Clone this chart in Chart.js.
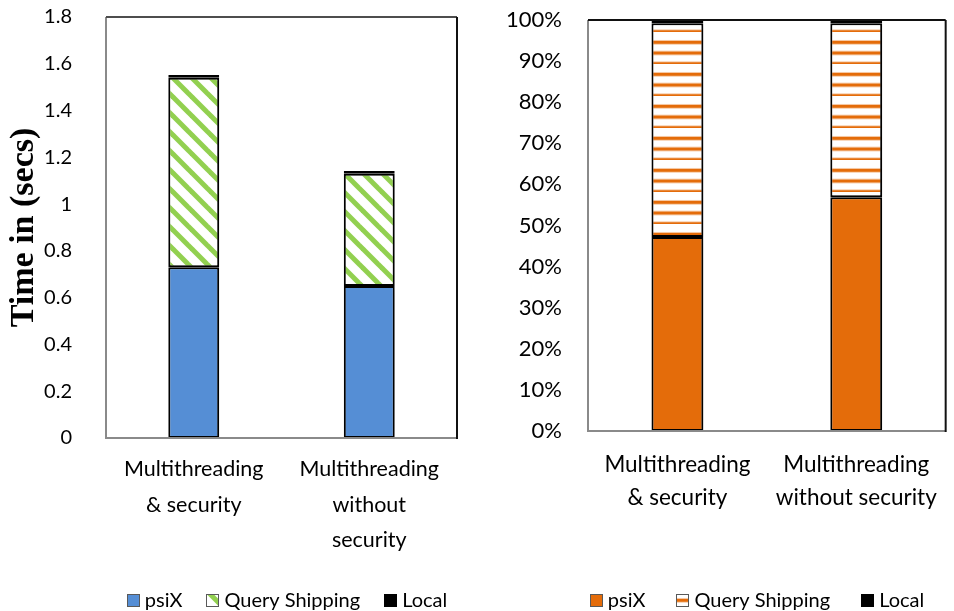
<!DOCTYPE html>
<html>
<head>
<meta charset="utf-8">
<script src="https://cdn.jsdelivr.net/npm/chart.js@4.4.1/dist/chart.umd.min.js"></script>
<style>
  html, body { margin: 0; padding: 0; background: #fff; }
  #wrap { position: relative; width: 954px; height: 611px; overflow: hidden; }
  canvas { position: absolute; top: 0; }
  #timeChart { left: 0; }
  #shareChart { left: 480px; }
</style>
</head>
<body>
<div id="wrap">
  <canvas id="timeChart" width="480" height="611"></canvas>
  <canvas id="shareChart" width="474" height="611"></canvas>
</div>
<script>
// ---- data ----
const timeCategories = [["Multithreading", "& security"], ["Multithreading", "without", "security"]];
const shareCategories = [["Multithreading", "& security"], ["Multithreading", "without security"]];
const seriesNames = ["psiX", "Query Shipping", "Local"];

// execution time in seconds
const timePsiX = [0.73, 0.65];
const timeQueryShipping = [0.81, 0.48];
const timeLocal = [0.012, 0.012];

// share of the total, percent
const sharePsiX = [47.2, 56.9];
const shareQueryShipping = [52.0, 42.3];
const shareLocal = [0.8, 0.8];

const timeTicks = ["0", "0.2", "0.4", "0.6", "0.8", "1", "1.2", "1.4", "1.6", "1.8"];
const shareTicks = ["0%", "10%", "20%", "30%", "40%", "50%", "60%", "70%", "80%", "90%", "100%"];

// ---- styling ----
const FONT = "Lato";
const BLUE = "#558ED5";
const GREEN = "#92D050";
const ORANGE = "#E46C0A";

Chart.defaults.font.family = FONT;
Chart.defaults.color = "#000";

function diagonalStripes() {
  const s = 19;
  const c = document.createElement("canvas");
  c.width = s; c.height = s;
  const g = c.getContext("2d");
  g.fillStyle = "#fff";
  g.fillRect(0, 0, s, s);
  g.strokeStyle = GREEN;
  g.lineWidth = 5;
  for (let k = -1; k <= 1; k++) {
    g.beginPath();
    g.moveTo(k * s - 2, -2);
    g.lineTo(k * s + s + 2, s + 2);
    g.stroke();
  }
  return g.createPattern(c, "repeat");
}

function horizontalStripes() {
  const w = 8, h = 32;
  const c = document.createElement("canvas");
  c.width = w; c.height = h;
  const g = c.getContext("2d");
  g.fillStyle = "#fff";
  g.fillRect(0, 0, w, h);
  [10.37, 21.03, 31.7].forEach(cy => {
    g.fillStyle = "rgba(228,108,10,0.35)";
    g.fillRect(0, cy - 2.4, w, 4.8);
    g.fillStyle = ORANGE;
    g.fillRect(0, cy - 1.4, w, 2.8);
  });
  return g.createPattern(c, "repeat");
}

// plot frame: grey left/bottom, dark top/right
const framePlugin = {
  id: "frame",
  afterDraw(chart, args, opts) {
    const { ctx, chartArea: a } = chart;
    ctx.save();
    ctx.lineWidth = 2;
    ctx.strokeStyle = "#8a8a8a";
    ctx.beginPath();
    ctx.moveTo(a.left, a.top); ctx.lineTo(a.left, a.bottom); ctx.lineTo(a.right, a.bottom);
    ctx.stroke();
    ctx.strokeStyle = opts.topColor;
    ctx.beginPath(); ctx.moveTo(a.left, a.top); ctx.lineTo(a.right, a.top); ctx.stroke();
    ctx.strokeStyle = "#111";
    ctx.beginPath(); ctx.moveTo(a.right, a.top); ctx.lineTo(a.right, a.bottom + 1); ctx.stroke();
    ctx.restore();
  }
};

// soft drop shadow under the bars
const shadowPlugin = {
  id: "barShadow",
  beforeDatasetsDraw(chart) {
    const ctx = chart.ctx;
    ctx.save();
    ctx.shadowColor = "rgba(0,0,0,0.22)";
    ctx.shadowBlur = 7;
    ctx.shadowOffsetX = 2;
    ctx.shadowOffsetY = 1;
  },
  afterDatasetsDraw(chart) {
    chart.ctx.restore();
  }
};

// legend row below the chart
const legendPlugin = {
  id: "boxLegend",
  afterDraw(chart, args, opts) {
    const ctx = chart.ctx;
    const bs = 13;
    ctx.save();
    ctx.font = opts.size + "px " + FONT;
    ctx.textBaseline = "middle";
    const items = chart.data.datasets.map(ds => ({ ds, w: bs + opts.gap + ctx.measureText(ds.label).width }));
    const total = items.reduce((s, it) => s + it.w, 0) + opts.spacing * (items.length - 1);
    let x = opts.cx - total / 2;
    const y = opts.y;
    items.forEach(({ ds, w }) => {
      ctx.save();
      ctx.translate(Math.round(x), Math.round(y - bs / 2) - 4);
      ctx.fillStyle = ds.backgroundColor;
      ctx.fillRect(0, 4, bs, bs);
      ctx.lineWidth = 1;
      ctx.strokeStyle = ds.legendBorder || "#595959";
      ctx.strokeRect(0.5, 4.5, bs - 1, bs - 1);
      ctx.restore();
      ctx.fillStyle = "#000";
      ctx.fillText(ds.label, x + bs + opts.gap, y + 1);
      x += w + opts.spacing;
    });
    ctx.restore();
  }
};

function barSet(label, data, fill, extra) {
  return Object.assign({
    label, data,
    backgroundColor: fill,
    borderColor: "#000",
    borderWidth: 2,
    borderSkipped: false,
    categoryPercentage: 1,
    barPercentage: 0.29
  }, extra || {});
}

// keep the value axis from reserving extra room above the plot
function valueAxisFit(width) {
  return s => { s.width = width; s.paddingTop = 0; s.paddingBottom = 0; };
}

// ---- left chart: absolute time ----
new Chart(document.getElementById("timeChart"), {
  type: "bar",
  data: {
    labels: timeCategories,
    datasets: [
      barSet(seriesNames[0], timePsiX, BLUE),
      barSet(seriesNames[1], timeQueryShipping, diagonalStripes()),
      barSet(seriesNames[2], timeLocal, "#000", { legendBorder: "#000" })
    ]
  },
  options: {
    responsive: false,
    devicePixelRatio: 1,
    animation: false,
    events: [],
    layout: { padding: { left: 4, right: 23, top: 17, bottom: 0 } },
    plugins: {
      legend: { display: false },
      tooltip: { enabled: false },
      frame: { topColor: "#4d4d4d" },
      boxLegend: { cx: 287, y: 600, size: 20, gap: 5, spacing: 24 }
    },
    scales: {
      x: {
        stacked: true,
        grid: { display: false, drawTicks: false },
        border: { display: false },
        ticks: { font: { size: 21.5, lineHeight: 1.63 }, padding: 14, maxRotation: 0, color: "#000" },
        afterFit(s) { s.height = 173; }
      },
      y: {
        stacked: true,
        min: 0, max: 1.8,
        grid: { display: false, drawTicks: false },
        border: { display: false },
        ticks: {
          stepSize: 0.2,
          font: { size: 20 },
          padding: 34,
          color: "#000",
          callback: (v, i) => timeTicks[i]
        },
        title: {
          display: true,
          text: "Time in (secs)",
          font: { family: "Liberation Serif", size: 34, weight: "bold", lineHeight: 1.2 },
          padding: 0,
          color: "#000"
        },
        afterFit: valueAxisFit(102)
      }
    }
  },
  plugins: [shadowPlugin, framePlugin, legendPlugin]
});

// ---- right chart: percentage share ----
new Chart(document.getElementById("shareChart"), {
  type: "bar",
  data: {
    labels: shareCategories,
    datasets: [
      barSet(seriesNames[0], sharePsiX, ORANGE),
      barSet(seriesNames[1], shareQueryShipping, horizontalStripes()),
      barSet(seriesNames[2], shareLocal, "#000", { legendBorder: "#000" })
    ]
  },
  options: {
    responsive: false,
    devicePixelRatio: 1,
    animation: false,
    events: [],
    layout: { padding: { left: 0, right: 1, top: 20, bottom: 0 } },
    plugins: {
      legend: { display: false },
      tooltip: { enabled: false },
      frame: { topColor: "#111" },
      boxLegend: { cx: 277, y: 600, size: 20, gap: 5, spacing: 31 }
    },
    scales: {
      x: {
        stacked: true,
        grid: { display: false, drawTicks: false },
        border: { display: false },
        ticks: { font: { size: 22.5, lineHeight: 1.47 }, padding: 17, maxRotation: 0, color: "#000" },
        afterFit(s) { s.height = 180; }
      },
      y: {
        stacked: true,
        min: 0, max: 100,
        grid: { display: false, drawTicks: false },
        border: { display: false },
        ticks: {
          stepSize: 10,
          font: { size: 22 },
          padding: 26,
          color: "#000",
          callback: (v, i) => shareTicks[i]
        },
        afterFit: valueAxisFit(108)
      }
    }
  },
  plugins: [shadowPlugin, framePlugin, legendPlugin]
});
</script>
</body>
</html>
